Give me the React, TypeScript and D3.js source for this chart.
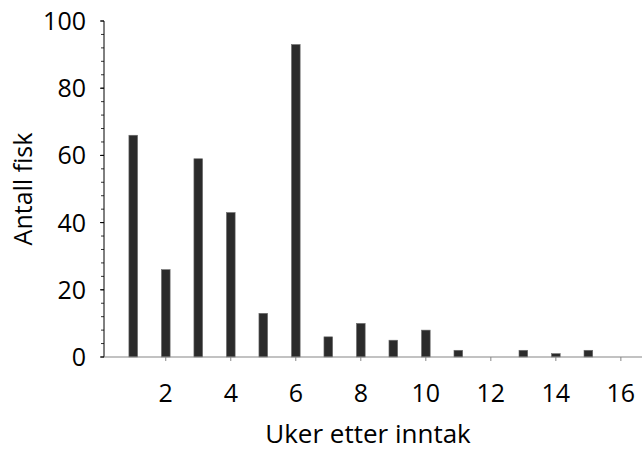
import React from "react";
import * as d3 from "d3";

const weeks = [1, 2, 3, 4, 5, 6, 7, 8, 9, 10, 11, 12, 13, 14, 15, 16];
const fishCount = [66, 26, 59, 43, 13, 93, 6, 10, 5, 8, 2, 0, 2, 1, 2, 0];
const xTicks = [2, 4, 6, 8, 10, 12, 14, 16];
const yMajorTicks = [0, 20, 40, 60, 80, 100];
const yMinorTicks = d3.range(0, 101, 4);

const W = 642;
const H = 450;
const FONT = "'Open Sans', Lato, sans-serif";

export default function App() {
  const x = d3.scaleLinear().domain([0.1, 16.65]).range([104, 642]);
  const y = d3.scaleLinear().domain([0, 100]).range([357, 21]);
  const barW = 8.7;
  return (
    <svg width={W} height={H} style={{ position: "absolute", left: 0, top: 0, background: "#fff" }}>
      {/* bars */}
      {weeks.map((w, i) =>
        fishCount[i] > 0 ? (
          <rect
            key={w}
            x={x(w) - barW / 2}
            y={y(fishCount[i])}
            width={barW}
            height={y(0) - y(fishCount[i])}
            fill="#2b2b2b"
            stroke="#6e6e6e"
            strokeWidth={0.6}
          />
        ) : null
      )}
      {/* y axis */}
      <line x1={104} x2={104} y1={y(100)} y2={y(0)} stroke="#000" strokeWidth={1} />
      {yMinorTicks.map((t) => (
        <line key={"m" + t} x1={101} x2={104} y1={y(t)} y2={y(t)} stroke="#000" strokeWidth={0.8} />
      ))}
      {yMajorTicks.map((t) => (
        <g key={"M" + t}>
          <line x1={100} x2={104} y1={y(t)} y2={y(t)} stroke="#000" strokeWidth={1} />
          <text x={86} y={y(t)} dy="0.36em" textAnchor="end" fontFamily={FONT} fontSize={25} fill="#000">
            {t}
          </text>
        </g>
      ))}
      {/* x axis */}
      <line x1={104} x2={642} y1={y(0)} y2={y(0)} stroke="#868686" strokeWidth={1.2} />
      {xTicks.map((t) => (
        <g key={"x" + t}>
          <line x1={x(t)} x2={x(t)} y1={y(0)} y2={y(0) + 4} stroke="#868686" strokeWidth={1} />
          <text x={x(t)} y={402} textAnchor="middle" fontFamily={FONT} fontSize={25} fill="#000">
            {t}
          </text>
        </g>
      ))}
      {/* titles */}
      <text x={368} y={443} textAnchor="middle" fontFamily={FONT} fontSize={26} fill="#000">
        Uker etter inntak
      </text>
      <text
        transform={`translate(32, ${(y(0) + y(100)) / 2}) rotate(-90)`}
        textAnchor="middle"
        fontFamily={FONT}
        fontSize={25}
        fill="#000"
      >
        Antall fisk
      </text>
    </svg>
  );
}
